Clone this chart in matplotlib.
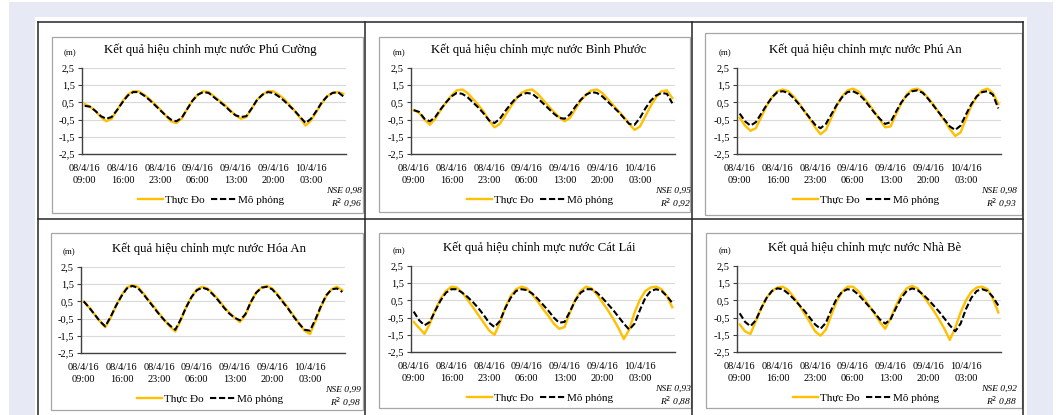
import matplotlib
matplotlib.use("Agg")
import matplotlib.pyplot as plt
from matplotlib.patches import Rectangle
from matplotlib.lines import Line2D

# --- DATA (hourly water level, m) ---
hours = list(range(49))
tick_pos = [0, 7, 14, 21, 28, 35, 42]
tick_labels = ["08/4/16\n09:00", "08/4/16\n16:00", "08/4/16\n23:00", "09/4/16\n06:00",
               "09/4/16\n13:00", "09/4/16\n20:00", "10/4/16\n03:00"]
yticks = [-2.5, -1.5, -0.5, 0.5, 1.5, 2.5]
ytick_labels = ["-2,5", "-1,5", "-0,5", "0,5", "1,5", "2,5"]

stations = ["Phú Cường", "Bình Phước", "Phú An", "Hóa An", "Cát Lái", "Nhà Bè"]
nse = ["0,98", "0,95", "0,98", "0,99", "0,93", "0,92"]
r2 = ["0,96", "0,92", "0,93", "0,98", "0,88", "0,88"]

pc_obs = [0.40, 0.25, 0.00, -0.35, -0.60, -0.45, 0.05, 0.55, 0.95, 1.15,
          1.15, 0.95, 0.70, 0.40, 0.10, -0.25, -0.60, -0.70, -0.45, 0.10,
          0.60, 0.95, 1.15, 1.10, 0.85, 0.60, 0.35, 0.05, -0.25, -0.45,
          -0.35, 0.15, 0.65, 0.95, 1.15, 1.15, 0.95, 0.70, 0.35, 0.00,
          -0.40, -0.85, -0.55, -0.05, 0.45, 0.85, 1.05, 1.10, 1.00]
pc_sim = [0.30, 0.25, 0.00, -0.30, -0.45, -0.35, 0.05, 0.50, 0.90, 1.10,
          1.10, 0.90, 0.65, 0.35, 0.05, -0.25, -0.50, -0.60, -0.40, 0.10,
          0.60, 0.95, 1.10, 1.05, 0.80, 0.55, 0.30, 0.00, -0.25, -0.35,
          -0.30, 0.15, 0.65, 0.95, 1.10, 1.05, 0.85, 0.60, 0.30, 0.00,
          -0.35, -0.70, -0.45, 0.00, 0.50, 0.85, 1.05, 1.10, 0.85]

bp_obs = [0.05, -0.10, -0.50, -0.80, -0.45, 0.05, 0.50, 0.90, 1.20, 1.25,
          1.05, 0.70, 0.35, -0.05, -0.55, -0.95, -0.75, -0.25, 0.25, 0.70,
          1.05, 1.20, 1.25, 1.00, 0.65, 0.30, -0.05, -0.35, -0.60, -0.40,
          0.10, 0.60, 0.95, 1.20, 1.25, 1.05, 0.70, 0.35, 0.00, -0.35,
          -0.75, -1.10, -0.90, -0.30, 0.30, 0.80, 1.15, 1.20, 0.75]
bp_sim = [0.05, -0.05, -0.45, -0.60, -0.35, 0.10, 0.50, 0.85, 1.05, 1.00,
          0.80, 0.50, 0.20, -0.15, -0.55, -0.70, -0.45, 0.00, 0.40, 0.75,
          0.95, 1.05, 1.00, 0.75, 0.45, 0.15, -0.15, -0.40, -0.45, -0.20,
          0.25, 0.65, 0.95, 1.10, 1.05, 0.85, 0.55, 0.25, -0.05, -0.40,
          -0.75, -0.80, -0.40, 0.15, 0.60, 0.90, 1.05, 1.00, 0.45]

pa_obs = [-0.40, -0.85, -1.15, -1.00, -0.35, 0.30, 0.80, 1.15, 1.25, 1.15,
          0.85, 0.45, 0.00, -0.45, -0.95, -1.35, -1.10, -0.40, 0.30, 0.85,
          1.20, 1.30, 1.15, 0.80, 0.40, -0.05, -0.50, -0.95, -0.90, -0.20,
          0.45, 0.95, 1.25, 1.30, 1.10, 0.75, 0.35, -0.10, -0.55, -1.05,
          -1.45, -1.25, -0.45, 0.30, 0.85, 1.20, 1.30, 1.05, 0.40]
pa_sim = [-0.15, -0.60, -0.85, -0.65, -0.15, 0.35, 0.80, 1.10, 1.15, 1.05,
          0.75, 0.40, 0.00, -0.40, -0.80, -1.00, -0.75, -0.20, 0.35, 0.80,
          1.10, 1.15, 1.00, 0.70, 0.30, -0.10, -0.45, -0.75, -0.65, -0.05,
          0.50, 0.90, 1.15, 1.20, 1.05, 0.70, 0.30, -0.10, -0.50, -0.90,
          -1.10, -0.85, -0.20, 0.40, 0.85, 1.10, 1.15, 0.95, 0.15]

ha_obs = [0.50, 0.15, -0.25, -0.65, -1.00, -0.45, 0.25, 0.85, 1.30, 1.45,
          1.35, 1.00, 0.60, 0.20, -0.20, -0.60, -0.95, -1.25, -0.60, 0.15,
          0.75, 1.20, 1.35, 1.25, 0.95, 0.60, 0.20, -0.15, -0.45, -0.70,
          -0.30, 0.45, 1.00, 1.30, 1.40, 1.25, 0.90, 0.50, 0.10, -0.35,
          -0.80, -1.20, -1.40, -0.65, 0.15, 0.80, 1.20, 1.35, 1.15]
ha_sim = [0.50, 0.15, -0.25, -0.65, -0.95, -0.40, 0.25, 0.80, 1.25, 1.40,
          1.30, 0.95, 0.55, 0.15, -0.25, -0.60, -0.90, -1.15, -0.55, 0.15,
          0.75, 1.15, 1.30, 1.20, 0.90, 0.55, 0.15, -0.20, -0.45, -0.60,
          -0.25, 0.45, 1.00, 1.30, 1.35, 1.20, 0.85, 0.45, 0.05, -0.40,
          -0.80, -1.15, -1.20, -0.55, 0.20, 0.85, 1.20, 1.25, 1.05]

cl_obs = [-0.75, -1.10, -1.45, -0.85, -0.05, 0.60, 1.05, 1.30, 1.25, 0.95,
          0.55, 0.10, -0.35, -0.80, -1.25, -1.50, -0.80, 0.10, 0.75, 1.15,
          1.30, 1.20, 0.85, 0.45, 0.00, -0.40, -0.85, -1.15, -1.05, -0.20,
          0.55, 1.05, 1.30, 1.20, 0.85, 0.40, -0.05, -0.55, -1.10, -1.75,
          -1.20, -0.20, 0.55, 1.05, 1.25, 1.30, 1.15, 0.75, 0.10]
cl_sim = [-0.15, -0.65, -0.95, -0.75, -0.10, 0.50, 0.95, 1.15, 1.15, 0.95,
          0.70, 0.40, 0.05, -0.35, -0.80, -1.05, -0.70, 0.05, 0.65, 1.05,
          1.15, 1.10, 0.90, 0.60, 0.25, -0.10, -0.50, -0.80, -0.75, -0.15,
          0.50, 0.95, 1.15, 1.15, 0.95, 0.65, 0.30, -0.05, -0.45, -0.85,
          -1.20, -0.85, -0.05, 0.65, 1.05, 1.15, 1.05, 0.75, 0.35]

nb_obs = [-0.90, -1.30, -1.45, -0.70, 0.05, 0.65, 1.05, 1.25, 1.30, 1.10,
          0.70, 0.25, -0.25, -0.75, -1.30, -1.55, -1.20, -0.35, 0.45, 1.00,
          1.30, 1.30, 1.05, 0.65, 0.20, -0.25, -0.75, -1.15, -0.55, 0.20,
          0.80, 1.20, 1.35, 1.20, 0.80, 0.35, -0.10, -0.60, -1.15, -1.80,
          -1.10, -0.20, 0.50, 1.00, 1.25, 1.30, 1.15, 0.60, -0.20]
nb_sim = [-0.25, -0.75, -1.00, -0.65, 0.05, 0.65, 1.05, 1.20, 1.15, 0.90,
          0.60, 0.25, -0.10, -0.50, -0.90, -1.15, -0.80, -0.05, 0.60, 1.00,
          1.15, 1.10, 0.85, 0.50, 0.15, -0.20, -0.60, -0.85, -0.60, 0.05,
          0.65, 1.05, 1.20, 1.10, 0.85, 0.55, 0.20, -0.15, -0.55, -0.95,
          -1.30, -0.85, 0.00, 0.65, 1.05, 1.15, 1.05, 0.70, 0.20]

observed = [pc_obs, bp_obs, pa_obs, ha_obs, cl_obs, nb_obs]
simulated = [pc_sim, bp_sim, pa_sim, ha_sim, cl_sim, nb_sim]

# --- LAYOUT (pixel positions in a 1059x415 image) ---
W, H = 1059, 415
SERIF = "Liberation Serif"
ORANGE = "#FFC000"

# chart frames (x0, y0, x1, y1) and plot-area top-left corners
frames = [(52, 37, 363, 213), (379, 37, 690, 212), (705, 33, 1022, 215),
          (51, 233, 363, 410), (379, 233, 691, 408), (706, 233, 1022, 408)]
plot_origin = [(82, 68), (411, 68), (737, 68), (81, 267), (411, 266), (737, 266)]
PW, PH = 264, 86


def fx(x):
    return x / W


def fy(y):
    return 1 - y / H


fig = plt.figure(figsize=(W / 100, H / 100), dpi=100)
fig.patch.set_facecolor("white")

# page background + white panel + table grid
fig.add_artist(Rectangle((fx(9), 0), fx(1053) - fx(9), fy(2), transform=fig.transFigure,
                         facecolor="#e7eaf5", edgecolor="none", zorder=0))
fig.add_artist(Rectangle((fx(35), 0), fx(1027) - fx(35), fy(17), transform=fig.transFigure,
                         facecolor="white", edgecolor="none", zorder=0))
for x in [38, 365, 692, 1023]:
    fig.add_artist(Line2D([fx(x), fx(x)], [0, fy(22)], transform=fig.transFigure,
                          color="#262626", lw=1.1, zorder=5))
for y in [22, 219]:
    fig.add_artist(Line2D([fx(38), fx(1023)], [fy(y), fy(y)], transform=fig.transFigure,
                          color="#262626", lw=1.1, zorder=5))

for i in range(6):
    x0, y0, x1, y1 = frames[i]
    fig.add_artist(Rectangle((fx(x0), fy(y1)), fx(x1) - fx(x0), fy(y0) - fy(y1),
                             transform=fig.transFigure, facecolor="none",
                             edgecolor="#a6a6a6", lw=0.9, zorder=2))

    px, py = plot_origin[i]
    ax = fig.add_axes([fx(px), fy(py + PH), PW / W, PH / H])
    ax.set_facecolor("none")
    ax.plot(hours, observed[i], color=ORANGE, lw=1.7, label="Thực Đo", zorder=3)
    ax.plot(hours, simulated[i], color="black", lw=1.5, ls=(0, (3, 1.3)),
            label="Mô phỏng", zorder=4)

    ax.set_xlim(-0.5, 48.5)
    ax.set_ylim(-2.5, 2.5)
    ax.set_yticks(yticks)
    ax.set_yticklabels(ytick_labels, fontfamily=SERIF, fontsize=7.5)
    ax.set_xticks(tick_pos)
    ax.set_xticklabels(tick_labels, fontfamily=SERIF, fontsize=7.5, linespacing=1.3)
    ax.tick_params(axis="x", length=0, pad=7.5)
    ax.tick_params(axis="y", length=3, width=0.8, color="#404040", pad=2)
    ax.grid(axis="y", color="#d9d9d9", lw=0.8)
    ax.set_axisbelow(True)
    for s in ["top", "right"]:
        ax.spines[s].set_visible(False)
    for s in ["left", "bottom"]:
        ax.spines[s].set_color("#404040")
        ax.spines[s].set_linewidth(1.0)

    fig.text(fx(px + 128), fy(py - 18), "Kết quả hiệu chỉnh mực nước " + stations[i],
             fontfamily=SERIF, fontsize=9.2, ha="center", va="center")
    fig.text(fx(px - 12), fy(py - 15), "(m)", fontfamily=SERIF, fontsize=6.3,
             ha="center", va="center")
    fig.text(fx(px + 280), fy(py + PH + 37), "NSE " + nse[i], fontfamily=SERIF,
             fontsize=6.8, style="italic", ha="right", va="center")
    fig.text(fx(px + 280), fy(py + PH + 49), "R$^2$ " + r2[i], fontfamily=SERIF,
             fontsize=6.8, style="italic", ha="right", va="center")

    ax.legend(loc="center", bbox_to_anchor=(129 / PW, -46 / PH), ncol=2, frameon=False,
              prop={"family": SERIF, "size": 8}, handlelength=2.3, handletextpad=0.2,
              columnspacing=0.5)

fig.savefig("out.png", dpi=100)
